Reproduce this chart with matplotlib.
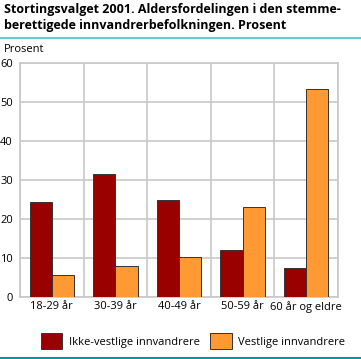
import matplotlib.pyplot as plt
import numpy as np

plt.rcParams['font.family'] = ['Open Sans', 'DejaVu Sans']

categories = ["18-29 år", "30-39 år", "40-49 år", "50-59 år", "60 år og eldre"]
ikke_vestlige = [24.3, 31.5, 24.8, 12.0, 7.4]
vestlige = [5.6, 7.9, 10.3, 23.1, 53.3]

fig = plt.figure(figsize=(3.61, 3.59), dpi=100)
ax = fig.add_axes([20 / 361, 1 - 297 / 359, 318 / 361, 234 / 359])

x = np.arange(len(categories))
w = 0.35
ax.bar(x - w / 2, ikke_vestlige, w, color="#990000", edgecolor="#333333", linewidth=0.7,
       label="Ikke-vestlige innvandrere", zorder=3)
ax.bar(x + w / 2, vestlige, w, color="#ff9933", edgecolor="#333333", linewidth=0.7,
       label="Vestlige innvandrere", zorder=3)

ax.set_xlim(-0.5, len(categories) - 0.5)
ax.set_ylim(0, 60)
ax.set_yticks(range(0, 61, 10))
ax.set_xticks(x)
ax.set_xticklabels(categories, fontsize=8)
ax.tick_params(axis="y", labelsize=8, length=0, pad=5)
ax.tick_params(axis="x", length=0, pad=3)

ax.set_xticks(np.arange(-0.5, len(categories), 1), minor=True)
ax.tick_params(axis="x", which="minor", length=0)
ax.grid(axis="y", color="#c8c8c8", linewidth=1.2, zorder=0)
ax.grid(axis="x", which="minor", color="#c8c8c8", linewidth=1.2, zorder=0)
ax.grid(axis="x", which="major", visible=False)
for s in ax.spines.values():
    s.set_color("#c8c8c8")
    s.set_linewidth(1.2)

fig.text(4 / 361, 1 - 9 / 359, "Stortingsvalget 2001. Aldersfordelingen i den stemme-",
         fontsize=9, fontweight="bold", va="center", ha="left")
fig.text(4 / 361, 1 - 25 / 359, "berettigede innvandrerbefolkningen. Prosent",
         fontsize=9, fontweight="bold", va="center", ha="left")
fig.add_artist(plt.Line2D([0, 1], [1 - 37.5 / 359] * 2, color="#66cccc", linewidth=1.5))
fig.add_artist(plt.Line2D([0, 1], [1 - 358 / 359] * 2, color="#009999", linewidth=1.5))
fig.text(4 / 361, 1 - 49 / 359, "Prosent", fontsize=8, va="center", ha="left")

fig.legend(loc="center", bbox_to_anchor=(193 / 361, 1 - 341 / 359), ncol=2, frameon=False,
           fontsize=8, handlelength=1.9, handleheight=1.9, columnspacing=1.0, handletextpad=0.6)

fig.savefig("out.png", dpi=100)
